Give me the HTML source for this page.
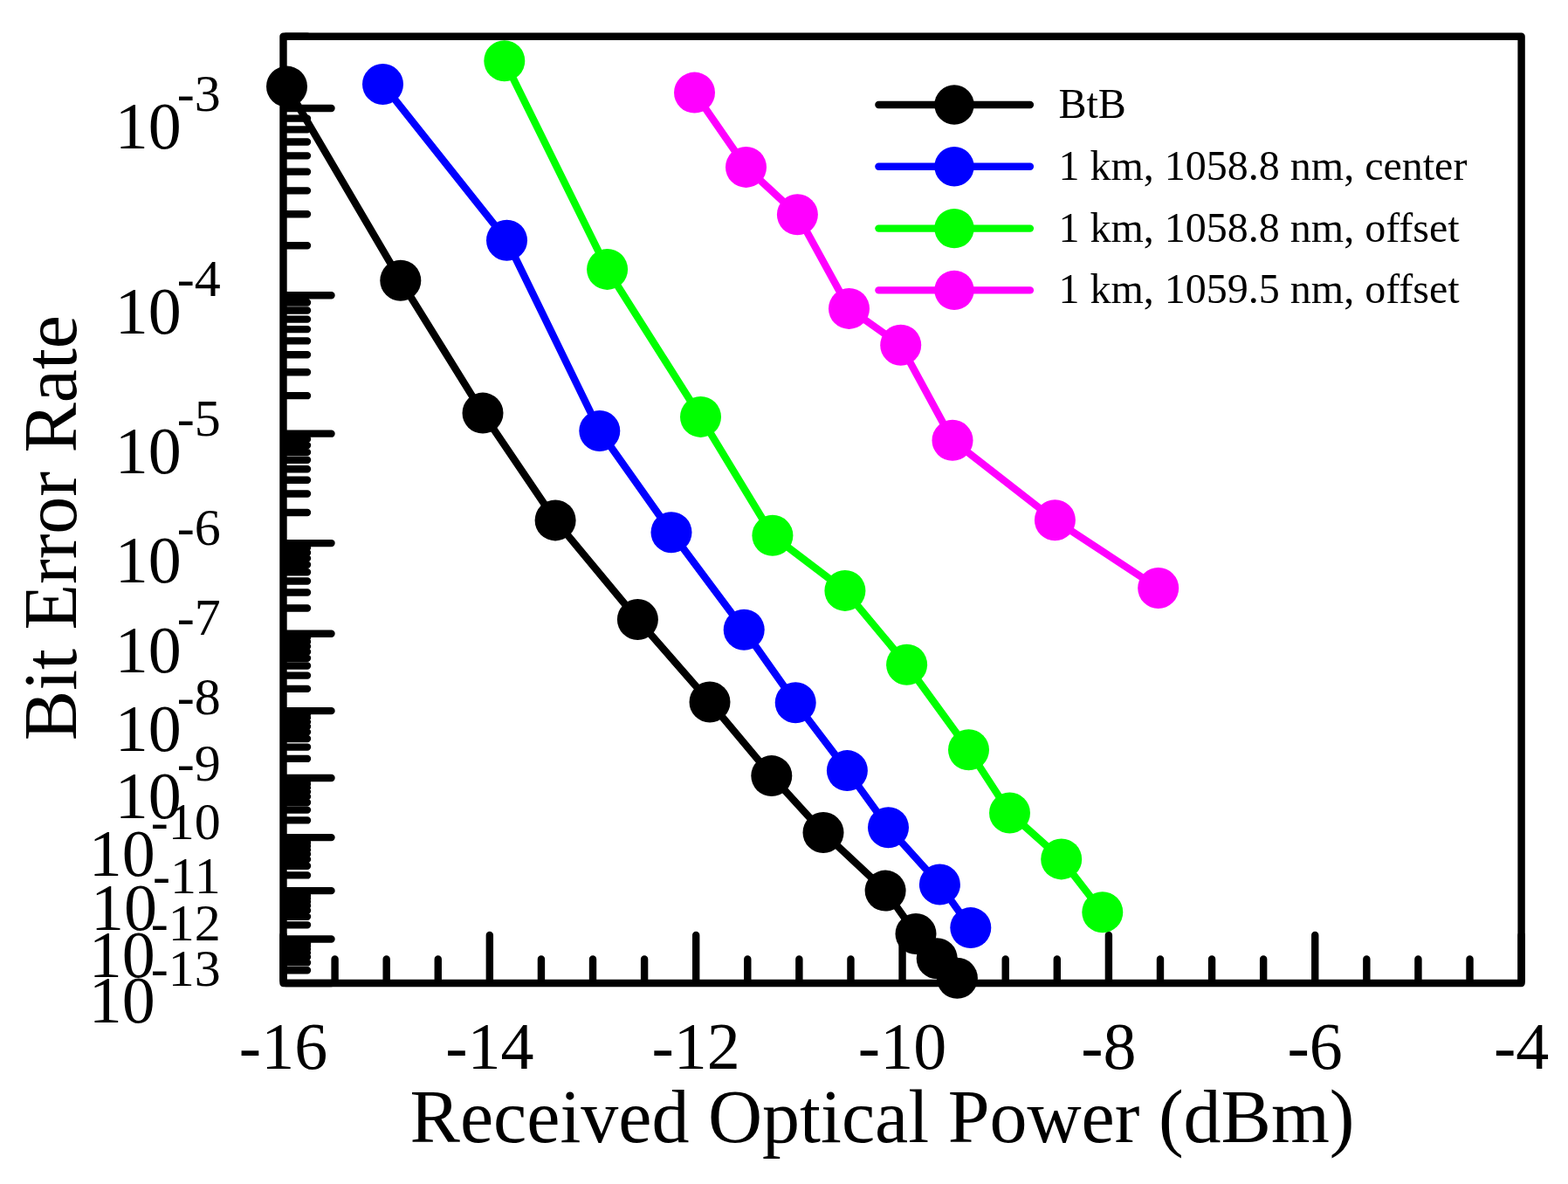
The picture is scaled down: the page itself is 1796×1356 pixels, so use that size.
<!DOCTYPE html>
<html><head><meta charset="utf-8"><style>
html,body{margin:0;padding:0;background:#fff;}
svg{display:block;}
text{font-family:"Liberation Serif","Times New Roman",serif;fill:#000;}
.xt{font-size:76px;text-anchor:middle;}
.yt{font-size:76px;text-anchor:end;}
.sup{font-size:60px;}
.lg{font-size:48px;}
.tt{font-size:86px;}
</style></head><body>
<svg width="1796" height="1356" viewBox="0 0 1796 1356">
<rect width="1796" height="1356" fill="#fff"/>
<path d="M327.5 124.03H379.5M327.5 41.80H352.0M327.5 338.25H379.5M327.5 281.22H352.0M327.5 245.23H352.0M327.5 218.35H352.0M327.5 196.67H352.0M327.5 178.37H352.0M327.5 162.47H352.0M327.5 148.35H352.0M327.5 135.63H352.0M327.5 496.66H379.5M327.5 453.16H352.0M327.5 426.19H352.0M327.5 406.30H352.0M327.5 390.42H352.0M327.5 377.12H352.0M327.5 365.65H352.0M327.5 355.54H352.0M327.5 346.47H352.0M327.5 622.09H379.5M327.5 587.00H352.0M327.5 565.49H352.0M327.5 549.74H352.0M327.5 537.24H352.0M327.5 526.82H352.0M327.5 517.88H352.0M327.5 510.02H352.0M327.5 503.01H352.0M327.5 725.80H379.5M327.5 696.43H352.0M327.5 678.55H352.0M327.5 665.54H352.0M327.5 655.24H352.0M327.5 646.70H352.0M327.5 639.38H352.0M327.5 632.97H352.0M327.5 627.25H352.0M327.5 814.14H379.5M327.5 788.90H352.0M327.5 773.62H352.0M327.5 762.54H352.0M327.5 753.80H352.0M327.5 746.56H352.0M327.5 740.37H352.0M327.5 734.96H352.0M327.5 730.14H352.0M327.5 891.04H379.5M327.5 868.92H352.0M327.5 855.59H352.0M327.5 845.95H352.0M327.5 838.36H352.0M327.5 832.08H352.0M327.5 826.72H352.0M327.5 822.04H352.0M327.5 817.89H352.0M327.5 959.10H379.5M327.5 939.42H352.0M327.5 927.60H352.0M327.5 919.07H352.0M327.5 912.36H352.0M327.5 906.83H352.0M327.5 902.11H352.0M327.5 897.99H352.0M327.5 894.33H352.0M327.5 1020.13H379.5M327.5 1002.42H352.0M327.5 991.80H352.0M327.5 984.15H352.0M327.5 978.15H352.0M327.5 973.20H352.0M327.5 968.98H352.0M327.5 965.30H352.0M327.5 962.04H352.0M327.5 1075.44H379.5M327.5 1059.33H352.0M327.5 1049.70H352.0M327.5 1042.77H352.0M327.5 1037.34H352.0M327.5 1032.86H352.0M327.5 1029.05H352.0M327.5 1025.73H352.0M327.5 1022.78H352.0M327.5 1126.00H379.5M327.5 1111.23H352.0M327.5 1102.42H352.0M327.5 1096.08H352.0M327.5 1091.12H352.0M327.5 1087.04H352.0M327.5 1083.56H352.0M327.5 1080.54H352.0M327.5 1077.85H352.0M324.50 1123.0V1071.0M383.59 1123.0V1098.5M442.68 1123.0V1098.5M501.76 1123.0V1098.5M560.85 1123.0V1071.0M619.94 1123.0V1098.5M679.02 1123.0V1098.5M738.11 1123.0V1098.5M797.20 1123.0V1071.0M856.29 1123.0V1098.5M915.38 1123.0V1098.5M974.46 1123.0V1098.5M1033.55 1123.0V1071.0M1092.64 1123.0V1098.5M1151.72 1123.0V1098.5M1210.81 1123.0V1098.5M1269.90 1123.0V1071.0M1328.99 1123.0V1098.5M1388.08 1123.0V1098.5M1447.16 1123.0V1098.5M1506.25 1123.0V1071.0M1565.34 1123.0V1098.5M1624.42 1123.0V1098.5M1683.51 1123.0V1098.5M1742.60 1123.0V1071.0" stroke="#000" stroke-width="8.4" stroke-linecap="round" fill="none"/>
<path d="M324.5 41.8H1742.6V1126.0H324.5Z" stroke="#000" stroke-width="8.4" stroke-linejoin="round" fill="none"/>
<path d="M328.5 99.1L458.8 321.2L553 473.1L636.1 595.9L730.4 709.5L813 804L883.8 888.6L943 953.5L1014.1 1020.1L1049 1069.5L1073.2 1097.7L1096.4 1120.3" fill="none" stroke="#000000" stroke-width="8.4" stroke-linejoin="round"/><circle cx="328.5" cy="99.1" r="23.5" fill="#000000"/><circle cx="458.8" cy="321.2" r="23.5" fill="#000000"/><circle cx="553" cy="473.1" r="23.5" fill="#000000"/><circle cx="636.1" cy="595.9" r="23.5" fill="#000000"/><circle cx="730.4" cy="709.5" r="23.5" fill="#000000"/><circle cx="813" cy="804" r="23.5" fill="#000000"/><circle cx="883.8" cy="888.6" r="23.5" fill="#000000"/><circle cx="943" cy="953.5" r="23.5" fill="#000000"/><circle cx="1014.1" cy="1020.1" r="23.5" fill="#000000"/><circle cx="1049" cy="1069.5" r="23.5" fill="#000000"/><circle cx="1073.2" cy="1097.7" r="23.5" fill="#000000"/><circle cx="1096.4" cy="1120.3" r="23.5" fill="#000000"/><path d="M438.5 96.5L580.5 275.2L686.8 493.5L769 609.7L852.2 721.2L911.2 804.7L970.4 882.6L1017.5 947.7L1076.4 1013L1111.8 1062.6" fill="none" stroke="#0000ff" stroke-width="8.4" stroke-linejoin="round"/><circle cx="438.5" cy="96.5" r="23.5" fill="#0000ff"/><circle cx="580.5" cy="275.2" r="23.5" fill="#0000ff"/><circle cx="686.8" cy="493.5" r="23.5" fill="#0000ff"/><circle cx="769" cy="609.7" r="23.5" fill="#0000ff"/><circle cx="852.2" cy="721.2" r="23.5" fill="#0000ff"/><circle cx="911.2" cy="804.7" r="23.5" fill="#0000ff"/><circle cx="970.4" cy="882.6" r="23.5" fill="#0000ff"/><circle cx="1017.5" cy="947.7" r="23.5" fill="#0000ff"/><circle cx="1076.4" cy="1013" r="23.5" fill="#0000ff"/><circle cx="1111.8" cy="1062.6" r="23.5" fill="#0000ff"/><path d="M577.8 69.7L695.6 308.4L802.5 477.4L884.9 613.3L967.9 676.4L1038.6 761.2L1109.5 858.8L1156.5 931L1215.7 983.9L1262.8 1044.7" fill="none" stroke="#00ff00" stroke-width="8.4" stroke-linejoin="round"/><circle cx="577.8" cy="69.7" r="23.5" fill="#00ff00"/><circle cx="695.6" cy="308.4" r="23.5" fill="#00ff00"/><circle cx="802.5" cy="477.4" r="23.5" fill="#00ff00"/><circle cx="884.9" cy="613.3" r="23.5" fill="#00ff00"/><circle cx="967.9" cy="676.4" r="23.5" fill="#00ff00"/><circle cx="1038.6" cy="761.2" r="23.5" fill="#00ff00"/><circle cx="1109.5" cy="858.8" r="23.5" fill="#00ff00"/><circle cx="1156.5" cy="931" r="23.5" fill="#00ff00"/><circle cx="1215.7" cy="983.9" r="23.5" fill="#00ff00"/><circle cx="1262.8" cy="1044.7" r="23.5" fill="#00ff00"/><path d="M795.5 106.1L854.5 191.4L913.4 245.8L972.5 353.4L1031.7 395.2L1091 504.3L1208.4 595.7L1326.7 673.5" fill="none" stroke="#ff00ff" stroke-width="8.4" stroke-linejoin="round"/><circle cx="795.5" cy="106.1" r="23.5" fill="#ff00ff"/><circle cx="854.5" cy="191.4" r="23.5" fill="#ff00ff"/><circle cx="913.4" cy="245.8" r="23.5" fill="#ff00ff"/><circle cx="972.5" cy="353.4" r="23.5" fill="#ff00ff"/><circle cx="1031.7" cy="395.2" r="23.5" fill="#ff00ff"/><circle cx="1091" cy="504.3" r="23.5" fill="#ff00ff"/><circle cx="1208.4" cy="595.7" r="23.5" fill="#ff00ff"/><circle cx="1326.7" cy="673.5" r="23.5" fill="#ff00ff"/>
<path d="M1006.4 120.0H1179.9" stroke="#000000" stroke-width="8.4" stroke-linecap="round"/><circle cx="1093" cy="120.0" r="22.7" fill="#000000"/><text x="1212.5" y="135.0" class="lg">BtB</text><path d="M1006.4 190.8H1179.9" stroke="#0000ff" stroke-width="8.4" stroke-linecap="round"/><circle cx="1093" cy="190.8" r="22.7" fill="#0000ff"/><text x="1212.5" y="205.8" class="lg">1 km, 1058.8 nm, center</text><path d="M1006.4 261.6H1179.9" stroke="#00ff00" stroke-width="8.4" stroke-linecap="round"/><circle cx="1093" cy="261.6" r="22.7" fill="#00ff00"/><text x="1212.5" y="276.6" class="lg">1 km, 1058.8 nm, offset</text><path d="M1006.4 332.4H1179.9" stroke="#ff00ff" stroke-width="8.4" stroke-linecap="round"/><circle cx="1093" cy="332.4" r="22.7" fill="#ff00ff"/><text x="1212.5" y="347.4" class="lg">1 km, 1059.5 nm, offset</text>
<text x="324.5" y="1224" class="xt">-16</text><text x="560.9" y="1224" class="xt">-14</text><text x="797.2" y="1224" class="xt">-12</text><text x="1033.5" y="1224" class="xt">-10</text><text x="1269.9" y="1224" class="xt">-8</text><text x="1506.2" y="1224" class="xt">-6</text><text x="1742.6" y="1224" class="xt">-4</text>
<text x="252.7" y="169.9" class="yt">10<tspan class="sup" dx="-5" dy="-42.6">-3</tspan></text><text x="252.7" y="381.9" class="yt">10<tspan class="sup" dx="-5" dy="-42.6">-4</tspan></text><text x="252.7" y="541.8" class="yt">10<tspan class="sup" dx="-5" dy="-42.6">-5</tspan></text><text x="252.7" y="666.9" class="yt">10<tspan class="sup" dx="-5" dy="-42.6">-6</tspan></text><text x="252.7" y="769.8" class="yt">10<tspan class="sup" dx="-5" dy="-42.6">-7</tspan></text><text x="252.7" y="860.1" class="yt">10<tspan class="sup" dx="-5" dy="-42.6">-8</tspan></text><text x="252.7" y="936.9" class="yt">10<tspan class="sup" dx="-5" dy="-42.6">-9</tspan></text><text x="252.7" y="1003.4" class="yt">10<tspan class="sup" dx="-5" dy="-42.6">-10</tspan></text><text x="252.7" y="1065.2" class="yt">10<tspan class="sup" dx="-5" dy="-42.6">-11</tspan></text><text x="252.7" y="1119.4" class="yt">10<tspan class="sup" dx="-5" dy="-42.6">-12</tspan></text><text x="252.7" y="1171.1" class="yt">10<tspan class="sup" dx="-5" dy="-42.6">-13</tspan></text>
<text x="1010.5" y="1307.7" class="tt" text-anchor="middle">Received Optical Power (dBm)</text>
<text transform="translate(87.4 604.6) rotate(-90)" class="tt" text-anchor="middle">Bit Error Rate</text>
</svg>
</body></html>
